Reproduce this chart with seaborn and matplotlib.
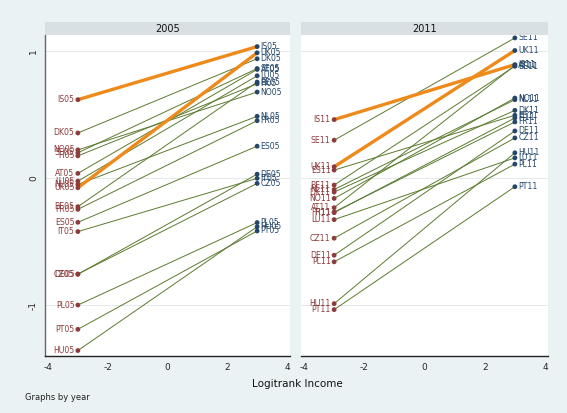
import matplotlib
matplotlib.use("Agg")
import matplotlib.pyplot as plt
import seaborn as sns
import pandas as pd

# ---- data ----
years = ["2005", "2011"]
x_left, x_right = -3, 3
highlight = ["IS", "UK"]

c05 = ["IS", "DK", "NO", "SE", "FI", "AT", "LU", "NL", "UK", "BE", "FR", "ES",
       "IT", "CZ", "DE", "PL", "PT", "HU"]
l05 = [0.617, 0.355, 0.222, 0.199, 0.175, 0.037, -0.024, -0.050, -0.076, -0.225,
       -0.246, -0.348, -0.421, -0.755, -0.757, -0.999, -1.190, -1.357]
r05 = [1.035, 0.939, 0.677, 0.862, 0.742, 0.855, 0.805, 0.486, 0.986, 0.756,
       0.452, 0.251, -0.002, -0.042, 0.031, -0.350, -0.416, -0.383]

c11 = ["IS", "SE", "UK", "ES", "BE", "NL", "DK", "NO", "AT", "FR", "FI", "LU",
       "CZ", "DE", "PL", "HU", "PT"]
l11 = [0.460, 0.298, 0.089, 0.063, -0.055, -0.090, -0.110, -0.160, -0.233,
       -0.267, -0.272, -0.327, -0.473, -0.607, -0.659, -0.988, -1.035]
r11 = [0.893, 1.103, 1.004, 0.494, 0.880, 0.617, 0.533, 0.630, 0.887, 0.442,
       0.473, 0.159, 0.316, 0.371, 0.110, 0.199, -0.068]

yticks = [-1, 0, 1]
xticks = [-4, -2, 0, 2, 4]

# ---- build long table ----
rows = []
for yr, cs, ls, rs in [("2005", c05, l05, r05), ("2011", c11, l11, r11)]:
    suf = yr[2:]
    for c, a, b in zip(cs, ls, rs):
        hl = "hi" if c in highlight else "lo"
        rows.append(dict(year=yr, country=c, lab=c + suf, side="L", x=x_left, y=a, hl=hl))
        rows.append(dict(year=yr, country=c, lab=c + suf, side="R", x=x_right, y=b, hl=hl))
df = pd.DataFrame(rows)

# ---- style ----
sns.set_style("white")
plt.rcParams["font.family"] = ["DejaVu Sans"]
plt.rcParams["axes.unicode_minus"] = False

BG = "#EAF2F3"
GREEN = "#5B7A2E"
ORANGE = "#EE8A1A"
MAROON = "#8E3B3B"
NAVY = "#24466A"

fig = plt.figure(figsize=(5.67, 4.13), dpi=100, facecolor=BG)
W, H = 567, 413
def fx(px): return px / W
def fy(py): return 1 - py / H

panels = [(45, 290), (301, 548)]
top_px, bot_px, strip_top = 35, 356, 22

for i, (yr, (xa, xb)) in enumerate(zip(years, panels)):
    ax = fig.add_axes([fx(xa), fy(bot_px), fx(xb - xa), (bot_px - top_px) / H])
    ax.set_facecolor("white")
    sub = df[df.year == yr]
    for yv in yticks:
        ax.axhline(yv, color="#E4EAEC", lw=0.7, zorder=0)
    sns.lineplot(data=sub, x="x", y="y", units="country", estimator=None,
                 hue="hl", hue_order=["lo", "hi"],
                 palette={"lo": GREEN, "hi": ORANGE},
                 size="hl", sizes={"lo": 0.7, "hi": 2.4}, size_order=["lo", "hi"],
                 legend=False, ax=ax, zorder=2)
    sns.scatterplot(data=sub, x="x", y="y", hue="side",
                    palette={"L": MAROON, "R": NAVY}, s=12, linewidth=0,
                    legend=False, ax=ax, zorder=3)
    for _, r in sub.iterrows():
        if r.side == "L":
            ax.annotate(r.lab, (r.x, r.y), xytext=(-2.5, 0), textcoords="offset points",
                        ha="right", va="center", fontsize=5.6, color=MAROON)
        else:
            ax.annotate(r.lab, (r.x, r.y), xytext=(2.5, 0), textcoords="offset points",
                        ha="left", va="center", fontsize=5.6, color=NAVY)
    ax.set_xlim(-4.1, 4.1)
    ax.set_ylim(-1.40, 1.126)
    ax.set_xticks(xticks)
    ax.set_xticklabels([str(t) for t in xticks], fontsize=6.5)
    ax.set_xlabel("")
    ax.set_ylabel("")
    ax.tick_params(axis="x", length=3, width=0.8, color="#333333", pad=2)
    for s in ["top", "right"]:
        ax.spines[s].set_visible(False)
    ax.spines["bottom"].set_color("#222222")
    ax.spines["bottom"].set_linewidth(1.0)
    if i == 0:
        ax.set_yticks(yticks)
        ax.set_yticklabels([str(t) for t in yticks], fontsize=6.5, rotation=90, va="center")
        ax.tick_params(axis="y", length=3, width=0.8, color="#555555", pad=2)
        ax.spines["left"].set_color("#666666")
        ax.spines["left"].set_linewidth(1.0)
    else:
        ax.set_yticks([])
        ax.spines["left"].set_visible(False)
    # strip
    sax = fig.add_axes([fx(xa), fy(top_px), fx(xb - xa), (top_px - strip_top) / H])
    sax.set_facecolor("#D9E0E4")
    sax.set_xticks([]); sax.set_yticks([])
    for s in sax.spines.values():
        s.set_visible(False)
    sax.text(0.5, 0.5, yr, ha="center", va="center", fontsize=7, color="#111111",
             transform=sax.transAxes)

fig.text(fx(297), fy(384), "Logitrank Income", ha="center", va="center", fontsize=7.5,
         color="#111111")
fig.text(fx(25), fy(398), "Graphs by year", ha="left", va="center", fontsize=6,
         color="#222222")

fig.savefig("out.png", dpi=100, facecolor=BG)
